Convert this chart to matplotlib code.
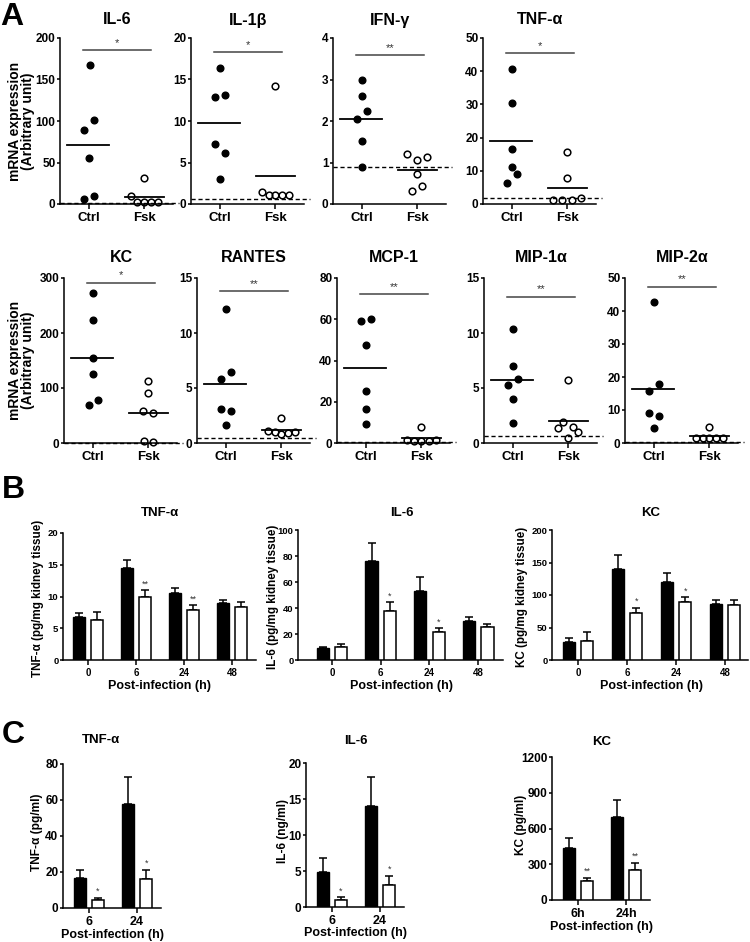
import matplotlib
matplotlib.use('Agg')
import matplotlib.pyplot as plt
import numpy as np

plt.rcParams['font.family'] = ['Liberation Sans', 'DejaVu Sans']
plt.rcParams['font.weight'] = 'bold'
plt.rcParams['axes.linewidth'] = 1.1

# ---------------- DATA: panel A (mRNA expression, arbitrary units) ----------------
a_groups = ["Ctrl", "Fsk"]
a_titles = ["IL-6", "IL-1β", "IFN-γ", "TNF-α", "KC", "RANTES", "MCP-1", "MIP-1α", "MIP-2α"]

il6_ctrl = [168, 101, 89, 55, 10, 6]
il6_fsk = [31, 10, 2, 2, 2, 2]
il1b_ctrl = [16.4, 13.1, 12.9, 7.2, 6.2, 3.0]
il1b_fsk = [14.2, 1.5, 1.1, 1.1, 1.1, 1.1]
ifng_ctrl = [3.0, 2.6, 2.23, 2.06, 1.51, 0.89]
ifng_fsk = [1.21, 1.06, 1.13, 0.72, 0.44, 0.32]
tnfa_ctrl = [40.7, 30.5, 16.6, 11.1, 8.9, 6.4]
tnfa_fsk = [15.7, 7.7, 1.9, 1.3, 1.3, 1.3]
kc_ctrl = [273, 224, 154, 126, 78, 70]
kc_fsk = [113, 91, 59, 54, 4, 1]
rantes_ctrl = [12.2, 6.5, 5.8, 3.1, 2.9, 1.6]
rantes_fsk = [2.3, 1.1, 1.0, 0.8, 0.9, 1.0]
mcp1_ctrl = [59, 60, 47.6, 25.2, 16.5, 9.3]
mcp1_fsk = [7.9, 1.5, 1.2, 1.0, 1.0, 1.3]
mip1a_ctrl = [10.4, 7.0, 5.84, 5.3, 4.0, 1.8]
mip1a_fsk = [5.72, 1.9, 1.5, 1.33, 1.0, 0.42]
mip2a_ctrl = [42.8, 17.8, 15.8, 9.0, 8.2, 4.66]
mip2a_fsk = [4.7, 1.5, 1.5, 1.5, 1.5, 1.5]

a_ctrl = [il6_ctrl, il1b_ctrl, ifng_ctrl, tnfa_ctrl, kc_ctrl, rantes_ctrl, mcp1_ctrl, mip1a_ctrl, mip2a_ctrl]
a_fsk = [il6_fsk, il1b_fsk, ifng_fsk, tnfa_fsk, kc_fsk, rantes_fsk, mcp1_fsk, mip1a_fsk, mip2a_fsk]
a_ymax = [200, 20, 4, 50, 300, 15, 80, 15, 50]
a_ystep = [50, 5, 1, 10, 100, 5, 20, 5, 10]
a_baseline = [1, 0.6, 0.89, 1.9, 0.5, 0.42, 0.3, 0.6, 0.3]   # dashed reference line
a_sig_y = [185, 18.3, 3.58, 45.4, 291, 13.8, 72.2, 13.3, 47.3]
a_sig_txt = ["*", "*", "**", "*", "*", "**", "**", "**", "**"]

# horizontal jitter of the dots (layout only)
ctrl_jit = [[0.01, 0.09, -0.09, 0, 0.09, -0.09],
            [0, 0.08, -0.1, -0.1, 0.08, 0],
            [0, 0, 0.09, -0.09, 0, 0],
            [0, 0, 0, 0, 0.09, -0.09],
            [0, 0, 0, 0, 0.08, -0.08],
            [0, 0.08, -0.1, -0.1, 0.08, 0],
            [-0.09, 0.09, 0, 0, 0, 0],
            [0, 0, 0.09, -0.09, 0, 0],
            [0, 0.09, -0.09, -0.09, 0.09, 0]]
fsk_jit = [[0, -0.25, -0.14, -0.01, 0.12, 0.25],
           [0, -0.24, -0.12, 0, 0.12, 0.24],
           [-0.18, 0, 0.18, 0, 0.09, -0.09],
           [0, 0, 0.25, -0.26, -0.09, 0.08],
           [0, 0, -0.1, 0.08, -0.08, 0.08],
           [0, -0.24, -0.12, 0, 0.12, 0.24],
           [0, -0.26, -0.13, 0, 0.13, 0.26],
           [0, -0.09, 0.08, -0.19, 0.18, 0],
           [0, -0.24, -0.12, 0, 0.12, 0.24]]

# ---------------- DATA: panel B (kidney tissue, pg/mg) ----------------
b_times = ["0", "6", "24", "48"]
b_titles = ["TNF-α", "IL-6", "KC"]
b_ylabels = ["TNF-α (pg/mg kidney tissue)", "IL-6 (pg/mg kidney tissue)", "KC (pg/mg kidney tissue)"]
b_tnf_ctrl = [6.8, 14.5, 10.6, 8.9]
b_tnf_ctrl_err = [0.6, 1.2, 0.8, 0.6]
b_tnf_fsk = [6.3, 10.0, 7.9, 8.4]
b_tnf_fsk_err = [1.3, 0.95, 0.7, 0.8]
b_tnf_stars = ["", "**", "**", ""]
b_il6_ctrl = [9.2, 76.4, 53, 30]
b_il6_ctrl_err = [0.6, 13.9, 11, 3.3]
b_il6_fsk = [10.3, 37.7, 21.3, 25.4]
b_il6_fsk_err = [2.0, 6.7, 3.1, 2.0]
b_il6_stars = ["", "*", "*", ""]
b_kc_ctrl = [28.2, 139.5, 120.5, 86.7]
b_kc_ctrl_err = [6.2, 22, 12.8, 6.1]
b_kc_fsk = [29.7, 72.8, 88.7, 85.1]
b_kc_fsk_err = [13.9, 7.7, 7.7, 6.7]
b_kc_stars = ["", "*", "*", ""]

# ---------------- DATA: panel C (serum) ----------------
c_titles = ["TNF-α", "IL-6", "KC"]
c_ylabels = ["TNF-α (pg/ml)", "IL-6 (ng/ml)", "KC (pg/ml)"]
c_times = [["6", "24"], ["6", "24"], ["6h", "24h"]]
c_tnf_ctrl = [16.5, 58]
c_tnf_ctrl_err = [4.8, 15]
c_tnf_fsk = [4.6, 16]
c_tnf_fsk_err = [1.15, 5.3]
c_il6_ctrl = [4.9, 14.0]
c_il6_ctrl_err = [1.9, 4.1]
c_il6_fsk = [0.93, 3.1]
c_il6_fsk_err = [0.4, 1.2]
c_kc_ctrl = [433, 698]
c_kc_ctrl_err = [84, 140]
c_kc_fsk = [162, 251]
c_kc_fsk_err = [20, 62]
c_stars = [["*", "*"], ["*", "*"], ["**", "**"]]

# ---------------- FIGURE ----------------
W, H = 750, 942
fig = plt.figure(figsize=(W / 100, H / 100), dpi=100)


def ax_px(left, top, right, bottom):
    return fig.add_axes([left / W, 1 - bottom / H, (right - left) / W, (bottom - top) / H])


def style(ax, tick_fs, xfs=None):
    for s in ("top", "right"):
        ax.spines[s].set_visible(False)
    ax.tick_params(axis='y', direction="out", length=2.5, width=1.1, labelsize=tick_fs, pad=0.8)
    ax.tick_params(axis='x', direction="out", length=3.5, width=1.1, labelsize=xfs or tick_fs, pad=2)
    for lab in ax.get_xticklabels() + ax.get_yticklabels():
        lab.set_fontweight("bold")


def ftext(x, y, s, **kw):
    fig.text(x / W, 1 - y / H, s, **kw)


# Panel A
row1_left = [60, 191, 333, 483]
row2_left = [64, 197, 337, 484, 625]
a_boxes = [(l, 38, 204) for l in row1_left] + [(l, 278, 443) for l in row2_left]
title_y = [20] * 4 + [257] * 5
for i in range(9):
    l, t, b = a_boxes[i]
    ax = ax_px(l, t, l + 113, b)
    ctrl = np.array(a_ctrl[i]); fsk = np.array(a_fsk[i])
    ax.plot(1 + np.array(ctrl_jit[i]), ctrl, 'o', ms=4.8, mfc='black', mec='black', clip_on=False, zorder=4)
    ax.plot(2 + np.array(fsk_jit[i]), fsk, 'o', ms=4.8, mfc='none', mec='black', mew=1.1, clip_on=False, zorder=4)
    ax.plot([0.6, 1.35], [ctrl.mean()] * 2, color='black', lw=1.3, zorder=3)
    ax.plot([1.65, 2.35], [fsk.mean()] * 2, color='black', lw=1.3, zorder=3)
    ax.plot([0.47, 2.62], [a_baseline[i]] * 2, color='black', lw=1.0, ls=(0, (3, 2)), clip_on=False, zorder=2)
    ax.plot([0.88, 2.12], [a_sig_y[i]] * 2, color='#444444', lw=1.1)
    ax.text(1.5, a_sig_y[i] + a_ymax[i] * 0.015, a_sig_txt[i], ha='center', va='bottom', fontsize=8,
            fontweight='normal', color='#333333')
    ax.set_xlim(0.47, 2.52)
    ax.set_ylim(0, a_ymax[i])
    ax.set_yticks(np.arange(0, a_ymax[i] + a_ystep[i] / 2, a_ystep[i]))
    ax.set_xticks([1, 2])
    ax.set_xticklabels(a_groups)
    style(ax, 8.5, 9.5)
    ftext(l + 57, title_y[i], a_titles[i], ha='center', va='center', fontsize=11.5)

for cy in (121, 360):
    ftext(15, cy, "mRNA expression", rotation=90, ha='center', va='center', fontsize=10)
    ftext(28, cy, "(Arbitrary unit)", rotation=90, ha='center', va='center', fontsize=10)


def bar_panel(ax, ctrl, cerr, fsk, ferr, stars, off, ymax):
    x = np.arange(len(ctrl))
    ax.errorbar(x - off, ctrl, yerr=[np.zeros(len(ctrl)), cerr], fmt='none', ecolor='black',
                elinewidth=1.1, capsize=3, capthick=1.1, zorder=2)
    ax.errorbar(x + off, fsk, yerr=[np.zeros(len(fsk)), ferr], fmt='none', ecolor='black',
                elinewidth=1.1, capsize=3, capthick=1.1, zorder=2)
    ax.bar(x - off, ctrl, 0.25, color='black', edgecolor='black', lw=1, zorder=3)
    ax.bar(x + off, fsk, 0.25, color='white', edgecolor='black', lw=1.1, zorder=3)
    for xi, v, e, s in zip(x, fsk, ferr, stars):
        if s:
            ax.text(xi + off, v + e + ymax * 0.015, s, ha='center', va='bottom', fontsize=6.5,
                    fontweight='normal', color='#333333')
    return x


# Panel B
b_ctrl = [b_tnf_ctrl, b_il6_ctrl, b_kc_ctrl]
b_cerr = [b_tnf_ctrl_err, b_il6_ctrl_err, b_kc_ctrl_err]
b_fsk = [b_tnf_fsk, b_il6_fsk, b_kc_fsk]
b_ferr = [b_tnf_fsk_err, b_il6_fsk_err, b_kc_fsk_err]
b_stars = [b_tnf_stars, b_il6_stars, b_kc_stars]
b_boxes = [(63, 533, 256, 660), (298, 530, 503, 660), (552, 530, 748, 660)]
b_xlim = [(-0.52, 3.5), (-0.7, 3.51), (-0.53, 3.47)]
b_ymax = [20, 100, 200]
b_ystep = [5, 20, 50]
b_ylab_x = [38, 273, 522]
b_title_x = [160, 402, 651]
for i in range(3):
    l, t, r, b = b_boxes[i]
    ax = ax_px(l, t, r, b)
    x = bar_panel(ax, b_ctrl[i], b_cerr[i], b_fsk[i], b_ferr[i], b_stars[i], 0.19, b_ymax[i])
    ax.set_xlim(*b_xlim[i])
    ax.set_ylim(0, b_ymax[i])
    ax.set_yticks(np.arange(0, b_ymax[i] + 1e-9, b_ystep[i]))
    ax.set_xticks(x)
    ax.set_xticklabels(b_times)
    style(ax, 6.8, 7)
    ftext(b_title_x[i], 513, b_titles[i], ha='center', va='center', fontsize=9.5)
    ftext(b_ylab_x[i], (t + b) / 2 + 2, b_ylabels[i], rotation=90, ha='center', va='center', fontsize=8.4)
    ftext(b_title_x[i], 686, "Post-infection (h)", ha='center', va='center', fontsize=9)

# Panel C
c_ctrl = [c_tnf_ctrl, c_il6_ctrl, c_kc_ctrl]
c_cerr = [c_tnf_ctrl_err, c_il6_ctrl_err, c_kc_ctrl_err]
c_fsk = [c_tnf_fsk, c_il6_fsk, c_kc_fsk]
c_ferr = [c_tnf_fsk_err, c_il6_fsk_err, c_kc_fsk_err]
c_boxes = [(63, 764, 161, 908), (306, 763, 404, 907), (552, 757, 650, 900)]
c_ymax = [80, 20, 1200]
c_ystep = [20, 5, 300]
c_ylab_x = [37, 283, 521]
c_title_pos = [(101, 740), (356, 741), (602, 742)]
c_xlab_pos = [(112, 935), (355, 933), (601, 927)]
for i in range(3):
    l, t, r, b = c_boxes[i]
    ax = ax_px(l, t, r, b)
    x = bar_panel(ax, c_ctrl[i], c_cerr[i], c_fsk[i], c_ferr[i], c_stars[i], 0.19, c_ymax[i])
    ax.set_xlim(-0.54, 1.5)
    ax.set_ylim(0, c_ymax[i])
    ax.set_yticks(np.arange(0, c_ymax[i] + 1e-9, c_ystep[i]))
    ax.set_xticks(x)
    ax.set_xticklabels(c_times[i])
    style(ax, 8.5, 9)
    ftext(c_title_pos[i][0], c_title_pos[i][1], c_titles[i], ha='center', va='center', fontsize=9.5)
    ftext(c_ylab_x[i], (t + b) / 2 - 4, c_ylabels[i], rotation=90, ha='center', va='center', fontsize=8.6)
    ftext(c_xlab_pos[i][0], c_xlab_pos[i][1], "Post-infection (h)", ha='center', va='center', fontsize=9)

# Panel letters
ftext(12, 17, "A", ha='center', va='center', fontsize=23)
ftext(13, 490, "B", ha='center', va='center', fontsize=23)
ftext(13, 735, "C", ha='center', va='center', fontsize=23)

fig.savefig("out.png", dpi=100)
